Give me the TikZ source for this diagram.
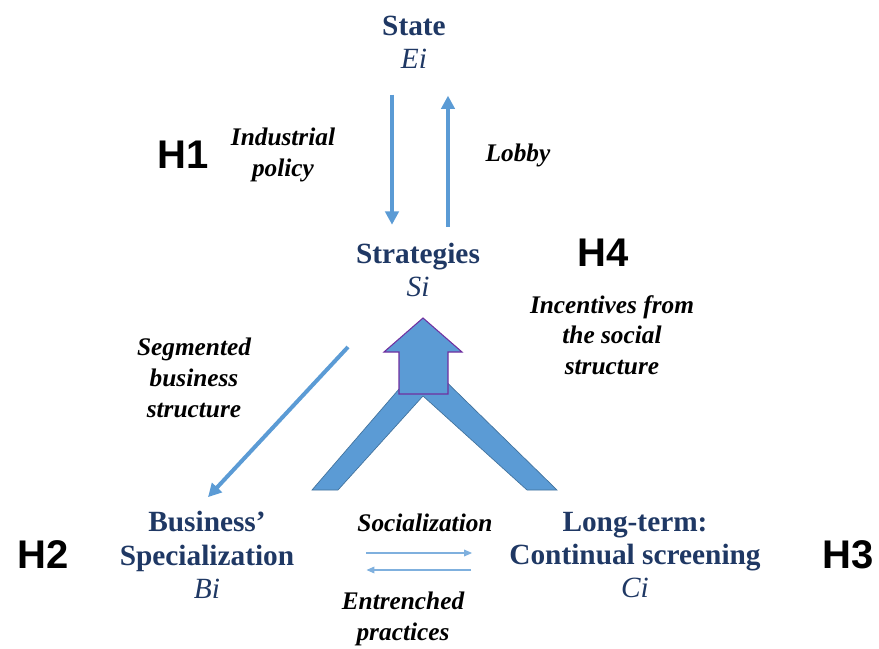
\documentclass[tikz,border=0pt]{standalone}
\usepackage{fontspec}
\setmainfont{Liberation Serif}
\newfontfamily\hypfont{Liberation Sans}
\usetikzlibrary{positioning,arrows.meta,calc}
\definecolor{cnavy}{HTML}{1F3864}
\definecolor{cblue}{HTML}{5B9BD5}
\definecolor{cbluelight}{HTML}{7FB0DE}
\definecolor{cbluedark}{HTML}{41719C}
\definecolor{cpurple}{HTML}{7030A0}
\tikzset{cvar/.style={align=center, text=cnavy, inner sep=0pt, font=\fontsize{22}{25}\selectfont\bfseries}}
\tikzset{clabel/.style={align=center, inner sep=0pt, font=\fontsize{19}{23}\selectfont\bfseries\itshape}}
\tikzset{chyp/.style={inner sep=0pt, font=\hypfont\fontsize{30}{30}\selectfont\bfseries}}
\tikzset{cedge/.style={-{Triangle[length=10pt,width=10pt]}, draw=cblue, line width=3pt}}
\tikzset{cthin/.style={-{Triangle[length=6pt,width=5pt]}, draw=cbluelight, line width=1pt}}
\tikzset{cband/.style={fill=cblue, draw=cbluedark, line width=0.5pt}}
\tikzset{cbig/.style={fill=cblue, draw=cpurple, line width=0.8pt}}

\begin{document}
\begin{tikzpicture}[x=0.75pt, y=-0.75pt]
  \useasboundingbox (0,0) rectangle (879,649);

  % V band and big arrow
  \draw[cband] (312,490) -- (424,360) -- (557,490) -- (527,490) -- (423,396) -- (338,490) -- cycle;
  \draw[cbig] (423,318) -- (462,352) -- (448,352) -- (448,394) -- (399,394) -- (399,352) -- (384,352) -- cycle;

  % variables
  \node[cvar] (state) at (414,42) {State\\{\mdseries\itshape Ei}};
  \node[cvar] (strat) at (418,270) {Strategies\\{\mdseries\itshape Si}};
  \node[cvar] (busi) at (207,555) {Business'\\Specialization\\{\mdseries\itshape Bi}};
  \node[cvar] (cont) at (635,555) {Long-term:\\Continual screening\\{\mdseries\itshape Ci}};

  % labels
  \node[clabel] (indpol) at (283,155) {Industrial\\policy};
  \node[clabel] (lobby) at (518,155) {Lobby};
  \node[clabel] (incent) at (612,335) {Incentives from\\the social\\structure};
  \node[clabel] (segm) at (194,378) {Segmented\\business\\structure};
  \node[clabel] (social) at (425,523) {Socialization};
  \node[clabel] (entr) at (403,619) {Entrenched\\practices};

  % hypotheses
  \node[chyp] (h1) at (183,155) {H1};
  \node[chyp] (h4) at (603,253) {H4};
  \node[chyp] (h2) at (43,555) {H2};
  \node[chyp] (h3) at (848,555) {H3};

  \coordinate (segstart) at (348,347);

  \draw[cedge] ($(state.south)+(-22,26)$) -- ($(strat.north)+(-26,-18)$);
  \draw[cedge] ($(strat.north)+(30,-16)$) -- ($(state.south)+(34,27)$);
  \draw[cedge] (segstart) -- ($(busi.north)+(1,-14)$);

  \draw[cthin] ($(busi.east)+(72,-2)$) -- ($(cont.west)+(-37,-2)$);
  \draw[cthin] ($(cont.west)+(-38,15)$) -- ($(busi.east)+(72,15)$);
\end{tikzpicture}
\end{document}
